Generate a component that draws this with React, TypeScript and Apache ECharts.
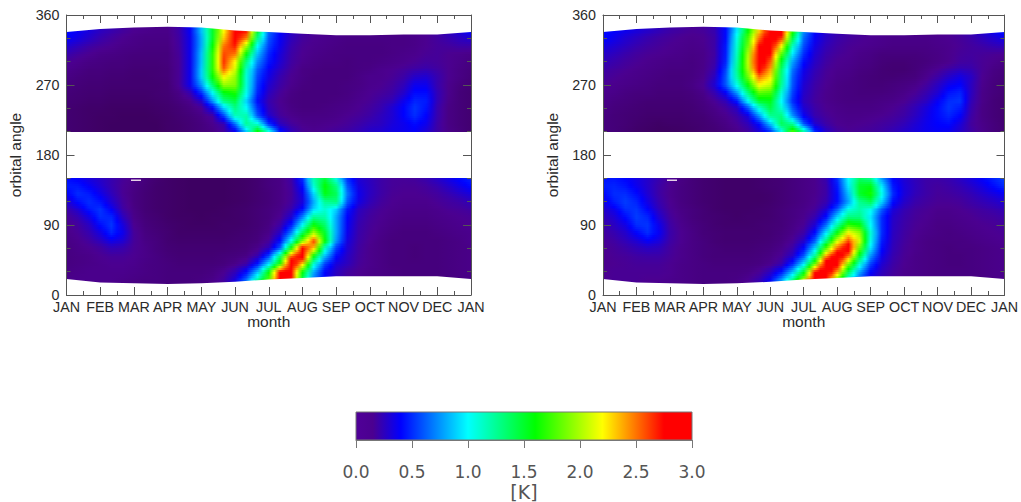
import React, { useEffect, useRef } from "react";
import * as echarts from "echarts";

const months = ["JAN","FEB","MAR","APR","MAY","JUN","JUL","AUG","SEP","OCT","NOV","DEC","JAN"];
const upperAngles = [340,330,320,310,300,290,280,270,260,250,240,230,220,210];
const lowerAngles = [150,140,130,120,110,100,90,80,70,60,50,40,30,20];
// outline of the observed region, one value per month boundary
const topEdge = [338,342,344,345,344,340,338,336,334,334,335,335,338];
const bottomEdge = [20.5,16,15,14,15,17,20,22,24,24,24,24,20.5];
const colorbarStops = [0, 0.15, 0.4, 1.0, 1.6, 2.2, 2.75, 3.0];
const colorbarColors = ["#3a0056","#4b0090","#0000ff","#00ffff","#00ff00","#ffff00","#ff0000","#ff0000"];
const colorbarFirstColor = "#500098";

// columns run JAN..JAN in thirds of a month, values in K
const leftUpper = [
[.42,.38,.32,.26,.22,.18,.15,.14,.13,.13,.2,.38,.85,1.5,2.2,2.8,2.7,1.5,.65,.42,.28,.2,.17,.15,.14,.13,.12,.12,.12,.12,.13,.14,.16,.2,.26,.33,.42],
[.4,.34,.28,.22,.18,.15,.13,.12,.12,.12,.19,.36,.8,1.5,2.3,2.8,2.5,1.3,.6,.38,.25,.18,.15,.14,.13,.12,.12,.12,.12,.12,.12,.13,.15,.18,.22,.26,.3],
[.3,.25,.2,.17,.15,.13,.12,.11,.11,.11,.18,.36,.8,1.6,2.5,2.7,2.0,1.0,.55,.36,.22,.16,.14,.13,.12,.11,.11,.11,.11,.12,.12,.13,.15,.17,.18,.2,.2],
[.22,.18,.15,.13,.12,.11,.1,.1,.1,.1,.17,.36,.85,1.7,2.6,2.5,1.6,.85,.48,.32,.2,.15,.13,.12,.11,.11,.11,.11,.11,.12,.13,.14,.16,.17,.15,.14,.13],
[.16,.14,.12,.11,.1,.1,.09,.09,.09,.1,.16,.36,.85,1.7,2.65,2.2,1.3,.72,.44,.3,.19,.14,.12,.11,.11,.1,.11,.11,.12,.13,.14,.16,.18,.17,.15,.13,.11],
[.14,.12,.1,.1,.09,.09,.08,.08,.08,.09,.16,.36,.88,1.7,2.55,2.1,1.15,.62,.38,.26,.17,.12,.11,.1,.1,.1,.11,.12,.14,.15,.17,.2,.22,.19,.15,.12,.1],
[.12,.1,.09,.09,.08,.08,.07,.07,.08,.09,.16,.36,.88,1.6,2.2,1.95,1.1,.56,.34,.22,.15,.12,.1,.1,.1,.1,.12,.14,.14,.16,.2,.28,.3,.22,.15,.12,.09],
[.1,.09,.08,.08,.07,.07,.07,.07,.07,.08,.16,.36,.75,1.35,1.95,1.9,1.1,.52,.3,.2,.14,.11,.1,.1,.1,.11,.12,.14,.15,.18,.24,.36,.36,.22,.14,.1,.08],
[.09,.08,.07,.07,.06,.06,.06,.06,.07,.08,.12,.22,.5,1.0,1.55,1.65,1.05,.48,.26,.17,.12,.1,.1,.1,.1,.11,.13,.15,.17,.2,.28,.42,.42,.24,.14,.09,.07],
[.08,.07,.06,.06,.05,.05,.05,.05,.06,.07,.1,.14,.28,.75,1.3,1.45,.9,.42,.22,.15,.11,.1,.1,.1,.11,.12,.14,.16,.2,.24,.36,.48,.46,.24,.13,.09,.07],
[.07,.06,.05,.05,.04,.04,.04,.04,.05,.06,.08,.11,.16,.4,.9,1.3,1.0,.5,.24,.16,.12,.1,.1,.11,.12,.13,.15,.18,.22,.3,.4,.52,.44,.22,.12,.09,.07],
[.07,.06,.05,.04,.04,.03,.03,.03,.04,.05,.07,.09,.12,.18,.55,1.15,1.2,.6,.3,.18,.14,.12,.12,.12,.13,.15,.17,.2,.25,.3,.4,.5,.4,.22,.12,.09,.07],
[.07,.06,.05,.04,.03,.03,.03,.03,.03,.05,.06,.08,.1,.14,.22,.65,1.25,1.1,.5,.26,.18,.14,.13,.14,.15,.17,.2,.24,.26,.32,.36,.42,.36,.2,.12,.09,.07],
[.07,.06,.05,.04,.03,.03,.03,.03,.03,.05,.06,.08,.1,.12,.18,.34,.85,1.65,1.1,.45,.25,.17,.15,.16,.18,.2,.24,.28,.3,.34,.36,.38,.3,.2,.13,.1,.07],
];
const leftLower = [
[.42,.38,.32,.27,.22,.17,.13,.1,.07,.05,.04,.03,.03,.03,.03,.04,.05,.07,.1,.12,.2,.5,1.2,1.45,1.05,.5,.3,.25,.2,.17,.17,.18,.22,.28,.35,.42,.48],
[.46,.45,.38,.3,.22,.16,.12,.09,.06,.05,.04,.03,.03,.03,.03,.04,.05,.07,.1,.12,.18,.42,1.1,1.6,1.3,.6,.33,.26,.2,.17,.16,.16,.18,.22,.28,.35,.42],
[.38,.5,.46,.36,.25,.16,.11,.08,.06,.05,.04,.03,.03,.03,.03,.04,.05,.07,.09,.12,.17,.35,.9,1.55,1.4,.68,.36,.26,.2,.16,.15,.15,.16,.18,.22,.27,.32],
[.28,.42,.5,.44,.3,.18,.11,.08,.06,.05,.04,.03,.03,.03,.03,.04,.05,.07,.09,.12,.18,.32,.8,1.25,1.3,.6,.34,.24,.18,.15,.14,.14,.14,.16,.18,.2,.24],
[.2,.3,.45,.52,.38,.2,.12,.08,.06,.05,.04,.03,.03,.03,.04,.05,.06,.08,.1,.13,.22,.42,.9,1.1,.9,.45,.26,.2,.16,.14,.13,.13,.13,.14,.16,.17,.19],
[.16,.22,.34,.5,.48,.26,.13,.09,.07,.05,.04,.04,.03,.04,.04,.05,.06,.08,.1,.15,.3,.7,1.25,1.2,.8,.4,.24,.18,.15,.13,.12,.12,.12,.13,.14,.15,.16],
[.14,.18,.26,.42,.52,.33,.15,.1,.08,.06,.05,.04,.04,.04,.05,.05,.06,.08,.11,.2,.45,1.0,1.6,1.35,.8,.38,.22,.17,.14,.12,.11,.11,.11,.12,.13,.14,.15],
[.13,.16,.22,.33,.48,.36,.17,.11,.09,.07,.05,.05,.05,.05,.05,.06,.07,.09,.13,.28,.7,1.4,2.0,1.5,.8,.36,.21,.16,.13,.11,.1,.1,.1,.11,.12,.13,.14],
[.12,.14,.18,.25,.35,.3,.17,.12,.1,.07,.06,.06,.06,.06,.06,.07,.08,.1,.17,.42,1.05,1.9,2.6,1.6,.75,.33,.2,.15,.12,.1,.1,.1,.1,.1,.11,.12,.14],
[.11,.13,.15,.18,.24,.22,.16,.13,.1,.08,.07,.07,.07,.07,.07,.08,.09,.13,.24,.6,1.6,2.75,2.35,1.15,.55,.3,.19,.14,.12,.1,.1,.09,.1,.1,.11,.12,.13],
[.11,.12,.13,.15,.17,.17,.15,.13,.11,.09,.08,.08,.08,.08,.09,.1,.12,.22,.55,1.3,2.5,2.9,1.6,.85,.42,.27,.18,.14,.12,.1,.1,.09,.1,.1,.11,.12,.13],
[.11,.12,.13,.14,.15,.15,.14,.12,.11,.1,.09,.09,.09,.09,.1,.13,.2,.45,.95,1.7,3.0,2.3,1.1,.55,.32,.25,.17,.14,.12,.1,.1,.1,.1,.1,.11,.12,.13],
[.12,.13,.14,.14,.14,.14,.13,.12,.11,.1,.1,.1,.1,.11,.15,.24,.42,.85,1.6,2.75,2.8,1.6,.8,.4,.26,.18,.15,.13,.12,.11,.1,.1,.1,.1,.11,.12,.13],
[.13,.14,.14,.14,.14,.13,.12,.11,.11,.1,.1,.1,.11,.13,.18,.32,.65,1.2,1.8,2.9,2.7,1.4,.7,.4,.25,.18,.15,.13,.12,.11,.1,.1,.1,.1,.11,.12,.13],
];
const rightUpper = [
[.42,.4,.36,.32,.28,.24,.2,.18,.16,.17,.22,.42,.95,1.6,2.3,2.85,2.9,1.7,.75,.42,.3,.24,.2,.18,.16,.15,.14,.14,.13,.13,.14,.16,.19,.24,.3,.38,.46],
[.42,.36,.3,.26,.22,.19,.17,.15,.14,.15,.2,.42,1.05,1.75,2.5,2.95,2.65,1.45,.65,.38,.27,.21,.18,.16,.15,.14,.13,.13,.13,.13,.14,.15,.17,.2,.25,.3,.35],
[.34,.3,.26,.22,.19,.17,.15,.14,.13,.14,.2,.45,1.1,1.85,2.75,2.95,2.2,1.15,.58,.34,.24,.19,.16,.15,.14,.13,.12,.12,.12,.12,.13,.14,.16,.18,.2,.23,.25],
[.28,.25,.21,.18,.16,.15,.14,.13,.12,.13,.19,.46,1.15,2.0,2.9,2.75,1.8,.95,.5,.3,.21,.17,.15,.13,.12,.1,.1,.1,.1,.11,.12,.14,.17,.18,.17,.16,.15],
[.24,.21,.18,.16,.14,.13,.12,.12,.11,.13,.2,.48,1.2,2.05,2.95,2.55,1.5,.78,.42,.27,.19,.15,.14,.12,.11,.09,.08,.08,.09,.1,.12,.14,.18,.19,.16,.14,.12],
[.2,.18,.16,.14,.13,.12,.11,.11,.11,.13,.22,.55,1.25,2.0,2.85,2.4,1.35,.68,.36,.24,.17,.14,.13,.11,.1,.08,.07,.07,.09,.12,.15,.2,.24,.22,.16,.12,.1],
[.18,.16,.14,.13,.12,.11,.1,.1,.11,.14,.26,.6,1.2,1.85,2.5,2.25,1.3,.62,.33,.22,.16,.13,.12,.1,.09,.08,.08,.09,.1,.14,.2,.28,.34,.27,.15,.11,.09],
[.16,.14,.13,.12,.11,.1,.1,.1,.12,.16,.3,.6,1.05,1.6,2.2,2.05,1.25,.6,.3,.2,.15,.12,.11,.1,.09,.09,.1,.11,.13,.18,.26,.36,.4,.26,.14,.1,.08],
[.14,.13,.11,.1,.1,.09,.09,.09,.1,.13,.22,.38,.75,1.3,1.8,1.75,1.1,.55,.28,.19,.14,.12,.11,.1,.1,.1,.11,.13,.16,.22,.3,.44,.48,.26,.13,.1,.08],
[.13,.11,.1,.09,.08,.08,.08,.08,.09,.11,.16,.24,.45,1.0,1.5,1.55,1.0,.5,.26,.18,.14,.12,.11,.11,.11,.12,.13,.15,.2,.26,.38,.5,.52,.24,.13,.09,.07],
[.12,.1,.09,.08,.07,.07,.07,.07,.08,.1,.13,.18,.27,.6,1.1,1.45,1.1,.6,.3,.2,.15,.13,.12,.12,.12,.13,.15,.18,.24,.32,.42,.52,.46,.22,.12,.09,.07],
[.11,.09,.08,.07,.06,.06,.06,.06,.07,.08,.11,.14,.2,.33,.75,1.25,1.3,.75,.38,.22,.17,.14,.13,.13,.14,.15,.17,.2,.26,.34,.42,.48,.4,.2,.12,.09,.07],
[.1,.09,.08,.06,.05,.04,.05,.05,.06,.07,.09,.12,.16,.24,.42,.85,1.4,1.25,.6,.3,.2,.15,.14,.15,.16,.18,.2,.24,.3,.36,.4,.42,.32,.18,.13,.1,.07],
[.1,.09,.07,.05,.04,.03,.03,.04,.05,.07,.08,.1,.13,.18,.3,.5,1.0,1.8,1.25,.5,.28,.19,.16,.17,.18,.2,.24,.28,.32,.36,.38,.36,.28,.2,.14,.1,.08],
];
const rightLower = [
[.44,.44,.4,.34,.28,.22,.16,.12,.09,.07,.06,.05,.05,.05,.06,.07,.08,.1,.12,.14,.22,.5,1.0,1.35,1.25,.75,.4,.3,.24,.2,.2,.22,.27,.33,.4,.48,.55],
[.46,.48,.44,.36,.28,.2,.15,.11,.09,.07,.06,.05,.05,.05,.06,.07,.08,.1,.12,.14,.2,.45,.95,1.5,1.55,.95,.45,.32,.25,.2,.18,.2,.23,.28,.34,.42,.5],
[.4,.5,.5,.42,.3,.2,.14,.11,.09,.07,.06,.05,.05,.05,.05,.06,.08,.1,.12,.14,.2,.42,.85,1.5,1.65,1.05,.5,.32,.24,.2,.17,.18,.2,.23,.28,.33,.38],
[.34,.46,.54,.48,.34,.22,.15,.11,.09,.07,.06,.05,.05,.05,.05,.06,.08,.1,.12,.15,.22,.42,.78,1.25,1.4,.9,.42,.28,.21,.18,.16,.16,.17,.2,.23,.26,.3],
[.28,.36,.5,.52,.4,.25,.16,.12,.1,.08,.06,.05,.05,.05,.06,.07,.09,.11,.13,.17,.3,.6,1.05,1.2,1.05,.62,.32,.23,.18,.16,.14,.14,.15,.17,.19,.21,.24],
[.24,.3,.42,.54,.48,.3,.18,.13,.1,.08,.07,.06,.05,.06,.06,.07,.09,.11,.14,.22,.42,.9,1.3,1.3,.95,.5,.28,.21,.17,.15,.13,.13,.14,.15,.17,.18,.2],
[.2,.26,.34,.5,.52,.36,.2,.14,.11,.09,.07,.06,.06,.06,.07,.08,.09,.12,.16,.3,.65,1.2,1.7,1.6,1.0,.5,.27,.2,.16,.14,.12,.12,.13,.14,.15,.16,.18],
[.18,.22,.28,.4,.5,.38,.21,.15,.12,.09,.08,.07,.07,.07,.07,.08,.1,.13,.2,.42,.95,1.6,2.2,1.95,1.1,.5,.26,.19,.15,.13,.12,.11,.12,.13,.14,.15,.16],
[.16,.19,.24,.3,.38,.32,.2,.15,.12,.1,.08,.07,.07,.07,.08,.09,.11,.16,.28,.62,1.3,2.1,2.6,2.1,1.05,.46,.25,.18,.14,.12,.11,.11,.11,.12,.13,.14,.15],
[.15,.17,.2,.24,.27,.25,.18,.14,.12,.1,.09,.08,.08,.08,.09,.1,.13,.2,.4,.88,1.75,2.5,2.9,1.85,.95,.42,.24,.17,.14,.12,.11,.1,.11,.11,.12,.13,.14],
[.14,.16,.17,.19,.2,.2,.17,.14,.12,.1,.09,.09,.09,.09,.1,.12,.16,.28,.6,1.25,2.4,3.0,2.5,1.5,.75,.36,.22,.16,.13,.12,.11,.1,.1,.11,.12,.13,.14],
[.14,.15,.16,.17,.17,.17,.15,.13,.12,.11,.1,.1,.1,.1,.11,.14,.22,.48,.95,1.85,3.0,2.85,1.9,1.1,.55,.3,.2,.15,.13,.12,.11,.1,.1,.11,.12,.13,.14],
[.15,.16,.16,.16,.16,.16,.15,.13,.12,.11,.11,.11,.11,.12,.16,.26,.45,.85,1.5,2.7,3.0,2.4,1.4,.8,.4,.25,.18,.14,.13,.12,.11,.11,.11,.11,.12,.13,.14],
[.15,.16,.16,.16,.15,.15,.14,.13,.12,.11,.11,.11,.12,.15,.22,.38,.75,1.25,2.0,3.0,2.85,1.85,1.05,.6,.32,.22,.16,.14,.13,.12,.11,.11,.11,.11,.12,.13,.14],
];

const hexRgb = (h: string) => [1, 3, 5].map((i) => parseInt(h.slice(i, i + 2), 16));
function shade(v: number) {
  const s = colorbarStops;
  const x = Math.max(0, Math.min(3, v));
  let i = 0;
  while (i < s.length - 2 && x > s[i + 1]) i++;
  const t = (x - s[i]) / (s[i + 1] - s[i]);
  const a = hexRgb(colorbarColors[i]);
  const b = hexRgb(colorbarColors[i + 1]);
  return `rgb(${a.map((c, k) => Math.round(c + (b[k] - c) * t)).join(",")})`;
}

type Strip = { a0: number; a1: number; fill: any };
const SUB_ROWS = 4;
const SUB_STOPS = 2;

function rowFill(vals: number[]) {
  const stops: { offset: number; color: string }[] = [];
  const n = vals.length - 1;
  for (let j = 0; j < n; j++) {
    for (let k = 0; k < SUB_STOPS; k++) {
      const t = k / SUB_STOPS;
      stops.push({ offset: (j + t) / n, color: shade(vals[j] + (vals[j + 1] - vals[j]) * t) });
    }
  }
  stops.push({ offset: 1, color: shade(vals[n]) });
  return new echarts.graphic.LinearGradient(0, 0, 1, 0, stops);
}

function buildStrips(rows: number[][], angles: number[], capTop: number | null, capBottom: number | null) {
  const out: Strip[] = [];
  if (capTop !== null) out.push({ a0: capTop, a1: angles[0], fill: rowFill(rows[0]) });
  for (let i = 0; i < rows.length - 1; i++) {
    for (let s = 0; s < SUB_ROWS; s++) {
      const t = (s + 0.5) / SUB_ROWS;
      const vals = rows[i].map((v, j) => v + (rows[i + 1][j] - v) * t);
      const da = angles[i + 1] - angles[i];
      out.push({
        a0: angles[i] + (da * s) / SUB_ROWS,
        a1: angles[i] + (da * (s + 1)) / SUB_ROWS,
        fill: rowFill(vals),
      });
    }
  }
  if (capBottom !== null) {
    out.push({ a0: angles[angles.length - 1], a1: capBottom, fill: rowFill(rows[rows.length - 1]) });
  }
  return out;
}

function fieldSeries(axis: number, upper: number[][], lower: number[][]) {
  const strips = [
    ...buildStrips(upper, upperAngles, 350, null),
    ...buildStrips(lower, lowerAngles, null, 10),
  ];
  return {
    type: "custom",
    xAxisIndex: axis,
    yAxisIndex: axis,
    silent: true,
    z: 2,
    progressive: 0,
    encode: { x: 0, y: 1 },
    data: strips.map((s) => [0, s.a0, s.a1]),
    renderItem: (p: any, api: any) => {
      const s = strips[p.dataIndex];
      const [x0, ya] = api.coord([0, s.a0]);
      const [x1, yb] = api.coord([12, s.a1]);
      const y0 = Math.round(ya);
      const y1 = Math.round(yb);
      return { type: "rect", shape: { x: x0, y: y0, width: x1 - x0, height: y1 - y0 }, style: { fill: s.fill } };
    },
  };
}

function maskSeries(axis: number, edge: number[], far: number) {
  return {
    type: "custom",
    xAxisIndex: axis,
    yAxisIndex: axis,
    silent: true,
    z: 3,
    encode: { x: 0, y: 1 },
    data: [[0, far]],
    renderItem: (_p: any, api: any) => {
      const pts = edge.map((a, m) => api.coord([m, a]));
      pts.push(api.coord([12, far]), api.coord([0, far]));
      return { type: "polygon", shape: { points: pts }, style: { fill: "#ffffff" } };
    },
  };
}

const axisLine = { show: true, onZero: false, lineStyle: { color: "#555", width: 1 } };
const labelStyle = { color: "#2a2a2a", fontFamily: "Liberation Sans", fontSize: 14.3, lineHeight: 12 };
const nameStyle = { color: "#2a2a2a", fontFamily: "Liberation Sans", fontSize: 15.5 };

function panelAxes(g: number) {
  const xTick = { show: true, inside: true, length: 8, lineStyle: { color: "#555" } };
  const xMinor = { show: true, splitNumber: 2, length: 4, lineStyle: { color: "#555" } };
  const yMinor = { show: true, splitNumber: 3, length: 4, lineStyle: { color: "#555" } };
  const xBase = { type: "value", gridIndex: g, min: 0, max: 12, interval: 1, z: 10, axisLine, axisTick: xTick, minorTick: xMinor, splitLine: { show: false }, minorSplitLine: { show: false } };
  const yBase = { type: "value", gridIndex: g, min: 0, max: 360, interval: 90, z: 10, axisLine, axisTick: xTick, minorTick: yMinor, splitLine: { show: false }, minorSplitLine: { show: false } };
  return {
    x: [
      { ...xBase, position: "bottom", name: "month", nameLocation: "middle", nameGap: 18, nameMoveOverlap: false, nameTextStyle: nameStyle,
        axisLabel: { ...labelStyle, margin: 6, hideOverlap: false, formatter: (v: number) => months[v] } },
      { ...xBase, position: "top", axisLabel: { show: false } },
    ],
    y: [
      { ...yBase, position: "left", name: "orbital angle", nameLocation: "middle", nameGap: 43, nameMoveOverlap: false, nameTextStyle: nameStyle,
        axisLabel: { ...labelStyle, margin: 7, padding: [0, 0, 2, 0] } },
      { ...yBase, position: "right", axisLabel: { show: false } },
    ],
  };
}

export default function App() {
  const ref = useRef<HTMLDivElement>(null);
  useEffect(() => {
    const chart = echarts.init(ref.current!, undefined, { renderer: "svg" });
    const left = panelAxes(0);
    const right = panelAxes(1);
    const barStops = colorbarStops.map((v, i) => ({ offset: v / 3, color: i === 0 ? colorbarFirstColor : colorbarColors[i] }));
    chart.setOption({
      animation: false,
      backgroundColor: "#ffffff",
      grid: [
        { left: 66.5, top: 15, width: 404.5, height: 280 },
        { left: 603, top: 15, width: 404.5, height: 280 },
        { left: 356, top: 412, width: 336, height: 36 },
      ],
      xAxis: [
        left.x[0], right.x[0],
        { type: "value", gridIndex: 2, min: 0, max: 3, interval: 0.5, z: 10, position: "bottom",
          name: "[K]", nameLocation: "middle", nameGap: 42, nameMoveOverlap: false,
          nameTextStyle: { color: "#555", fontFamily: "DejaVu Sans", fontSize: 19 },
          axisLine: { show: true, lineStyle: { color: "#777" } },
          axisTick: { show: true, length: 8, lineStyle: { color: "#777" } },
          splitLine: { show: false },
          axisLabel: { color: "#555", fontFamily: "DejaVu Sans", fontSize: 17, margin: 25, lineHeight: 14, formatter: (v: number) => v.toFixed(1) } },
        left.x[1], right.x[1],
      ],
      yAxis: [
        left.y[0], right.y[0],
        { type: "value", gridIndex: 2, min: 0, max: 1, show: false },
        left.y[1], right.y[1],
      ],
      series: [
        fieldSeries(0, leftUpper, leftLower),
        maskSeries(0, topEdge, 352),
        maskSeries(0, bottomEdge, 8),
        fieldSeries(1, rightUpper, rightLower),
        maskSeries(1, topEdge, 352),
        maskSeries(1, bottomEdge, 8),
        {
          type: "custom", xAxisIndex: 2, yAxisIndex: 2, silent: true, z: 2, encode: { x: 0, y: 1 },
          data: [[0, 1]],
          renderItem: (_p: any, api: any) => {
            const [x0, y0] = api.coord([0, 1]);
            const [x1, y1] = api.coord([3, 0]);
            return { type: "rect", shape: { x: x0, y: y0, width: x1 - x0, height: y1 - y0 },
              style: { fill: new echarts.graphic.LinearGradient(0, 0, 1, 0, barStops), stroke: "#777", lineWidth: 1 } };
          },
        },
      ],
      graphic: [
        { type: "rect", z: 20, shape: { x: 131, y: 179.5, width: 10, height: 1.5 }, style: { fill: "#e6d0e6" } },
        { type: "rect", z: 20, shape: { x: 667, y: 179.5, width: 10, height: 1.5 }, style: { fill: "#e6d0e6" } },
      ],
    });
    return () => chart.dispose();
  }, []);
  return <div ref={ref} style={{ position: "absolute", left: 0, top: 0, width: 1021, height: 502 }} />;
}
